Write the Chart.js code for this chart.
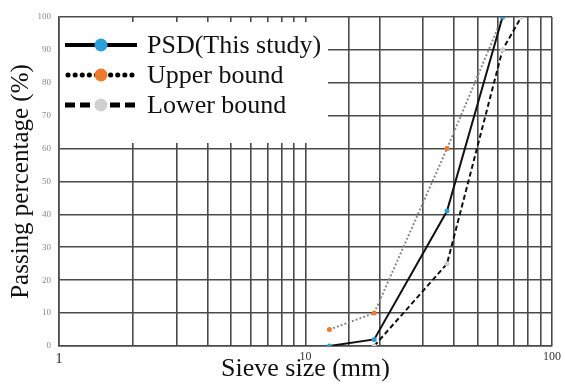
<!DOCTYPE html>
<html>
<head>
<meta charset="utf-8">
<script src="https://cdn.jsdelivr.net/npm/chart.js@4.4.0/dist/chart.umd.min.js"></script>
<style>
  html, body { margin: 0; padding: 0; background: #fff; }
  #wrap { width: 565px; height: 385px; }
</style>
</head>
<body>
<div id="wrap"><canvas id="psdChart" width="565" height="385"></canvas></div>
<script>
// sieve sizes (mm) and passing percentages
var sieveSizes = [12.5, 19, 37.5, 63, 75];
var psdPassing = [0, 2, 41, 100, null];
var upperPassing = [5, 10, 60, 100, null];
var lowerPassing = [null, 0, 25, 90, 100];
var xTickLabels = [1, 10, 100];
var seriesNames = ["PSD(This study)", "Upper bound", "Lower bound"];

function toPoints(values) {
  var pts = [];
  for (var i = 0; i < sieveSizes.length; i++) {
    if (values[i] !== null) pts.push({ x: sieveSizes[i], y: values[i] });
  }
  return pts;
}

var serif = "'Liberation Serif', 'DejaVu Serif', serif";

// legend drawn in the top-left corner, on a white box over the grid
var boxLegend = {
  id: 'boxLegend',
  beforeDatasetsDraw: function (chart) {
    var ctx = chart.ctx;
    var area = chart.chartArea;
    ctx.save();
    ctx.fillStyle = '#fff';
    ctx.fillRect(area.left + 1, 22, 268, 121);
    ctx.restore();
  },
  afterDraw: function (chart) {
    var ctx = chart.ctx;
    var styles = [
      { dash: [], width: 4, cap: 'butt', marker: '#2a9fd8' },
      { dash: [0.1, 7], width: 5, cap: 'round', marker: '#ef7a2c' },
      { dash: [10, 5], width: 5, cap: 'butt', marker: '#d0d0d0' }
    ];
    ctx.save();
    chart.data.datasets.forEach(function (ds, i) {
      var y = 45 + i * 30;
      var st = styles[i];
      ctx.strokeStyle = '#000';
      ctx.lineWidth = st.width;
      ctx.lineCap = st.cap;
      ctx.setLineDash(st.dash);
      ctx.beginPath();
      ctx.moveTo(i === 1 ? 68 : 65, y);
      ctx.lineTo(137, y);
      ctx.stroke();
      ctx.setLineDash([]);
      ctx.fillStyle = st.marker;
      ctx.beginPath();
      ctx.arc(101, y, 6.5, 0, Math.PI * 2);
      ctx.fill();
      ctx.fillStyle = '#111';
      ctx.font = '26px ' + serif;
      ctx.textBaseline = 'middle';
      ctx.fillText(ds.label, 147, y + 1);
    });
    ctx.restore();
  }
};

var ctx = document.getElementById('psdChart').getContext('2d');
var psdChart = new Chart(ctx, {
  type: 'line',
  data: {
    datasets: [
      {
        label: seriesNames[0],
        data: toPoints(psdPassing),
        borderColor: '#111',
        borderWidth: 2,
        pointBackgroundColor: '#2a9fd8',
        pointBorderWidth: 0,
        pointRadius: 2.5,
        tension: 0
      },
      {
        label: seriesNames[1],
        data: toPoints(upperPassing),
        borderColor: '#8a8a8a',
        borderWidth: 2,
        borderDash: [2, 2],
        pointBackgroundColor: '#ef7a2c',
        pointBorderWidth: 0,
        pointRadius: 2.5,
        tension: 0
      },
      {
        label: seriesNames[2],
        data: toPoints(lowerPassing),
        borderColor: '#111',
        borderWidth: 2,
        borderDash: [5, 3],
        pointBackgroundColor: '#cfcfcf',
        pointBorderWidth: 0,
        pointRadius: 2.5,
        tension: 0
      }
    ]
  },
  options: {
    responsive: false,
    animation: false,
    layout: { padding: { left: 0, right: 13, top: 17, bottom: 0 } },
    plugins: {
      legend: { display: false },
      tooltip: { enabled: false }
    },
    scales: {
      x: {
        type: 'logarithmic',
        min: 1,
        max: 100,
        afterFit: function (scale) { scale.height = 39; },
        grid: { color: '#4a4a4a', lineWidth: 1.6, drawTicks: false },
        border: { color: '#4a4a4a', width: 1.6 },
        ticks: {
          autoSkip: false,
          maxRotation: 0,
          padding: 4,
          color: '#333',
          font: function (c) {
            return { family: serif, size: c.tick && c.tick.value === 1 ? 15 : 12 };
          },
          callback: function (value) {
            return xTickLabels.indexOf(value) >= 0 ? String(value) : '';
          }
        },
        title: {
          display: true,
          text: 'Sieve size (mm)',
          color: '#111',
          padding: 0,
          font: { family: serif, size: 26 }
        }
      },
      y: {
        min: 0,
        max: 100,
        afterFit: function (scale) { scale.width = 59; },
        grid: { color: '#4a4a4a', lineWidth: 1.6, drawTicks: false },
        border: { color: '#4a4a4a', width: 1.6 },
        ticks: {
          stepSize: 10,
          padding: 8,
          color: '#888',
          font: { family: serif, size: 9 }
        },
        title: {
          display: true,
          text: 'Passing percentage (%)',
          color: '#111',
          padding: { top: 6, bottom: 0 },
          font: { family: serif, size: 25 }
        }
      }
    }
  },
  plugins: [boxLegend]
});
</script>
</body>
</html>
